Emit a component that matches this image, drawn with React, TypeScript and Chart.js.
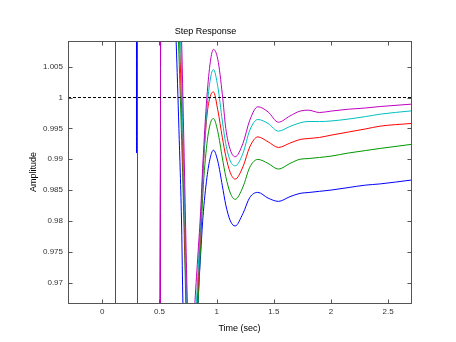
import React, { useEffect, useRef } from 'react';
import { Chart, registerables } from 'chart.js';

Chart.register(...registerables);

// ---- data ----
const timeSec = [
  0, 0.11545, 0.11546, 0.29911, 0.29912, 0.29913, 0.30787, 0.30788,
  0.495, 0.50904, 0.50905, 0.52, 0.58,
  0.646, 0.67, 0.694, 0.705, 0.72, 0.744, 0.775,
  0.81, 0.838, 0.86, 0.88, 0.915, 0.945, 0.972,
  1.01, 1.05, 1.08, 1.12, 1.162,
  1.23, 1.29, 1.36, 1.45, 1.54,
  1.64, 1.73, 1.8, 1.9, 2.0,
  2.15, 2.3, 2.43, 2.7,
];

const magentaValues = [
  0, 0.9, 1.1, 1.1, 1.1, 1.1, 1.1, 0.9,
  0.9, 0.9, 1.1, 1.1, 1.06,
  1.035, 1.025, 1.009, 1.0, 0.987, 0.9667, 0.953,
  0.9667, 0.975, 0.9815, 0.9894, 1.0001, 1.0058, 1.0078,
  1.0062, 1.0005, 0.995, 0.9915, 0.9904,
  0.99256, 0.99633, 0.9985, 0.99767, 0.996,
  0.997, 0.9978, 0.99795, 0.99757, 0.9978,
  0.9981, 0.9983, 0.99854, 0.99892,
];

const cyanValues = [
  0, 0.9, 1.1, 1.1, 1.1, 1.1, 1.1, 0.9,
  0.945, 0.996, 1.006, 1.06, 1.055,
  1.03, 1.018, 1.003, 0.994, 0.982, 0.963, 0.95,
  0.962, 0.972, 0.98, 0.988, 0.998, 1.003, 1.00453,
  1.0018, 0.9962, 0.9925, 0.9897, 0.98893,
  0.99094, 0.99471, 0.99644, 0.99579, 0.99455,
  0.9953, 0.9959, 0.99612, 0.9961, 0.9962,
  0.9965, 0.9969, 0.9973, 0.99783,
];

const redValues = [
  0, 0.9, 1.1, 1.1, 1.1, 1.1, 1.1, 0.9,
  0.94, 0.994, 1.004, 1.06, 1.05,
  1.025, 1.013, 0.998, 0.99, 0.978, 0.96, 0.948,
  0.958, 0.97, 0.979, 0.9875, 0.997, 1.0002, 1.00091,
  0.998, 0.9935, 0.9905, 0.9878, 0.98678,
  0.98877, 0.992, 0.99362, 0.99282, 0.99191,
  0.9926, 0.9932, 0.99335, 0.99353, 0.9939,
  0.9944, 0.9949, 0.99536, 0.99579,
];

const greenValues = [
  0, 0.9, 1.1, 1.1, 1.1, 1.1, 1.1, 0.9,
  0.94, 0.992, 1.002, 1.06, 1.045,
  1.018, 1.007, 0.993, 0.986, 0.975, 0.957, 0.946,
  0.955, 0.967, 0.976, 0.9845, 0.9925, 0.9958, 0.9966,
  0.9945, 0.9902, 0.9872, 0.9845, 0.9835,
  0.9855, 0.9887, 0.98997, 0.98932, 0.9884,
  0.9893, 0.99, 0.9901, 0.99029, 0.9905,
  0.991, 0.9914, 0.99175, 0.9924,
];

const blueValues = [
  0, 0.9, 1.1, 1.1, 0.991, 1.1, 1.1, 0.9,
  0.935, 0.99, 1.0, 1.06, 1.04,
  1.009, 0.995, 0.979, 0.9667, 0.958, 0.946, 0.94,
  0.95, 0.9667, 0.9745, 0.9805, 0.987, 0.9903, 0.99147,
  0.9897, 0.9857, 0.9826, 0.98, 0.97918,
  0.9812, 0.9838, 0.98463, 0.9837, 0.98317,
  0.98392, 0.98447, 0.9846, 0.9848, 0.985,
  0.9854, 0.9858, 0.986, 0.98662,
];

const xTickValues = [0, 0.5, 1, 1.5, 2, 2.5];
const xTickLabels = ['0', '0.5', '1', '1.5', '2', '2.5'];
const yTickValues = [0.97, 0.975, 0.98, 0.985, 0.99, 0.995, 1, 1.005];
const yTickLabels = ['0.97', '0.975', '0.98', '0.985', '0.99', '0.995', '1', '1.005'];
const xRange = [-0.3, 2.7];
const yRange = [0.9667, 1.00916];
const referenceLevel = 1;

const chartTitle = 'Step Response';
const xAxisTitle = 'Time (sec)';
const yAxisTitle = 'Amplitude';

// drawn top-most first (Chart.js paints the first dataset last)
const seriesList = [
  { label: 'magenta', color: '#bf00bf', values: magentaValues },
  { label: 'cyan', color: '#00bfbf', values: cyanValues },
  { label: 'red', color: '#ff0000', values: redValues },
  { label: 'green', color: '#009600', values: greenValues },
  { label: 'blue', color: '#0000ff', values: blueValues },
];

const FONT = '"Liberation Sans", Arial, Helvetica, sans-serif';

const framePlugin = {
  id: 'matlabFrame',
  afterDatasetsDraw(chart: any) {
    const { ctx, chartArea: a, scales } = chart;
    const L = Math.floor(a.left) + 0.5;
    const R = Math.floor(a.right) + 0.5;
    const T = Math.floor(a.top) + 0.5;
    const B = Math.floor(a.bottom) + 0.5;
    const tick = 4;
    ctx.save();
    ctx.strokeStyle = '#555';
    ctx.lineWidth = 1;
    ctx.setLineDash([]);
    ctx.strokeRect(L, T, R - L, B - T);
    ctx.beginPath();
    for (const v of xTickValues) {
      const px = Math.round(scales.x.getPixelForValue(v)) + 0.5;
      ctx.moveTo(px, B);
      ctx.lineTo(px, B - tick);
      ctx.moveTo(px, T);
      ctx.lineTo(px, T + tick);
    }
    for (const v of yTickValues) {
      const py = Math.round(scales.y.getPixelForValue(v)) + 0.5;
      ctx.moveTo(L, py);
      ctx.lineTo(L + tick, py);
      ctx.moveTo(R, py);
      ctx.lineTo(R - tick, py);
    }
    ctx.stroke();
    ctx.restore();
  },
};

export default function App() {
  const canvasRef = useRef<HTMLCanvasElement | null>(null);

  useEffect(() => {
    const canvas = canvasRef.current;
    if (!canvas) return;

    const datasets: any[] = [
      {
        label: 'reference',
        data: [
          { x: xRange[0], y: referenceLevel },
          { x: xRange[1], y: referenceLevel },
        ],
        borderColor: '#000000',
        borderWidth: 1,
        borderDash: [3, 2],
        pointRadius: 0,
        tension: 0,
        clip: 0,
      },
      ...seriesList.map((s) => ({
        label: s.label,
        data: timeSec.map((t, i) => ({ x: t, y: s.values[i] })),
        borderColor: s.color,
        borderWidth: 1,
        pointRadius: 0,
        cubicInterpolationMode: 'monotone',
        clip: 0,
      })),
    ];

    const chart = new Chart(canvas, {
      type: 'line',
      data: { datasets },
      options: {
        responsive: false,
        animation: false,
        devicePixelRatio: 1,
        events: [],
        layout: { padding: { left: 0, right: 45, top: 0, bottom: 0 } },
        plugins: {
          legend: { display: false },
          tooltip: { enabled: false },
          title: {
            display: true,
            text: chartTitle,
            color: '#000',
            font: { family: FONT, size: 9, weight: 'normal' },
            padding: { top: 26, bottom: 4.2 },
          },
        },
        scales: {
          x: {
            type: 'linear',
            min: xRange[0],
            max: xRange[1],
            afterBuildTicks: (s: any) => {
              s.ticks = xTickValues.map((value) => ({ value }));
            },
            afterFit: (s: any) => {
              s.height = 39;
            },
            grid: { display: false, drawTicks: false },
            border: { display: false },
            ticks: {
              autoSkip: false,
              maxRotation: 0,
              padding: 4,
              color: '#333',
              font: { family: FONT, size: 8 },
              callback: (_v: any, i: number) => xTickLabels[i],
            },
            title: {
              display: true,
              text: xAxisTitle,
              color: '#000',
              font: { family: FONT, size: 9 },
              padding: { top: 0, bottom: 8.3 },
            },
          },
          y: {
            type: 'linear',
            min: yRange[0],
            max: yRange[1],
            afterBuildTicks: (s: any) => {
              s.ticks = yTickValues.map((value) => ({ value }));
            },
            afterFit: (s: any) => {
              s.width = 68;
            },
            grid: { display: false, drawTicks: false },
            border: { display: false },
            ticks: {
              autoSkip: false,
              padding: 5,
              color: '#333',
              font: { family: FONT, size: 8 },
              callback: (_v: any, i: number) => yTickLabels[i],
            },
            title: {
              display: true,
              text: yAxisTitle,
              color: '#000',
              font: { family: FONT, size: 9 },
              padding: { top: 27.9, bottom: 0 },
            },
          },
        },
      } as any,
      plugins: [framePlugin],
    });

    return () => chart.destroy();
  }, []);

  return (
    <div style={{ position: 'fixed', left: 0, top: 0, width: 456, height: 342, background: '#fff' }}>
      <canvas ref={canvasRef} width={456} height={342} style={{ display: 'block' }} />
    </div>
  );
}
